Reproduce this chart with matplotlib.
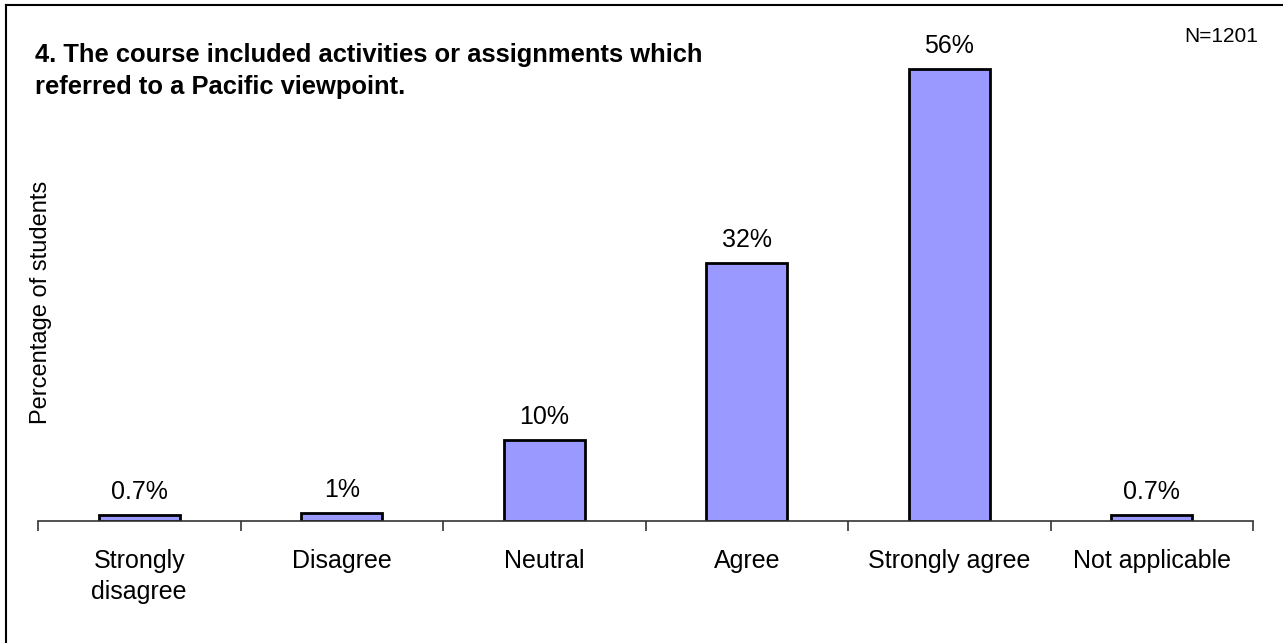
import matplotlib
matplotlib.use('Agg')
import matplotlib.pyplot as plt
from matplotlib.lines import Line2D

# Data
categories = ['Strongly\ndisagree', 'Disagree', 'Neutral', 'Agree', 'Strongly agree', 'Not applicable']
values = [0.7, 1, 10, 32, 56, 0.7]
value_labels = ['0.7%', '1%', '10%', '32%', '56%', '0.7%']

plt.rcParams['font.family'] = ['Liberation Sans', 'DejaVu Sans']

W, H = 1283, 643
fig = plt.figure(figsize=(W / 100, H / 100), dpi=100)
ax = fig.add_axes([38 / W, 1 - 521 / H, (1253 - 38) / W, (521 - 37) / H])

x = range(len(categories))
bars = ax.bar(x, values, width=0.4, color='#9999FF', edgecolor='black', linewidth=2, zorder=2)
for xi, v, lab in zip(x, values, value_labels):
    ax.annotate(lab, (xi, v), xytext=(0, 8), textcoords='offset points',
                ha='center', va='bottom', fontsize=18)

ax.set_xlim(-0.5, len(categories) - 0.5)
ax.set_ylim(0, 60)
for s in ['top', 'right', 'left']:
    ax.spines[s].set_visible(False)
ax.spines['bottom'].set_linewidth(1.2)
ax.spines['bottom'].set_color('#333333')
ax.set_yticks([])
ax.set_xticks([i - 0.5 for i in range(len(categories) + 1)], minor=False)
ax.set_xticklabels([])
ax.tick_params(axis='x', which='major', length=7, width=1.2, color='#333333')
ax.set_xticks(list(x), minor=True)
ax.set_xticklabels(categories, minor=True, fontsize=18, linespacing=1.4)
ax.tick_params(axis='x', which='minor', length=0, pad=20)

fig.text(41 / W, 1 - 302 / H, 'Percentage of students', rotation=90,
         ha='center', va='center', fontsize=17)
fig.text(35 / W, 1 - 71 / H, '4. The course included activities or assignments which\nreferred to a Pacific viewpoint.',
         ha='left', va='center', fontsize=18.4, fontweight='bold', linespacing=1.4)
fig.text(1258 / W, 1 - 36 / H, 'N=1201', ha='right', va='center', fontsize=15)

# frame around the chart (left and top edges visible)
fig.add_artist(Line2D([6 / W, 6 / W], [0, 1 - 5 / H], color='black', linewidth=1.5))
fig.add_artist(Line2D([6 / W, 1], [1 - 5 / H, 1 - 5 / H], color='black', linewidth=1.5))

fig.savefig('out.png', dpi=100)
